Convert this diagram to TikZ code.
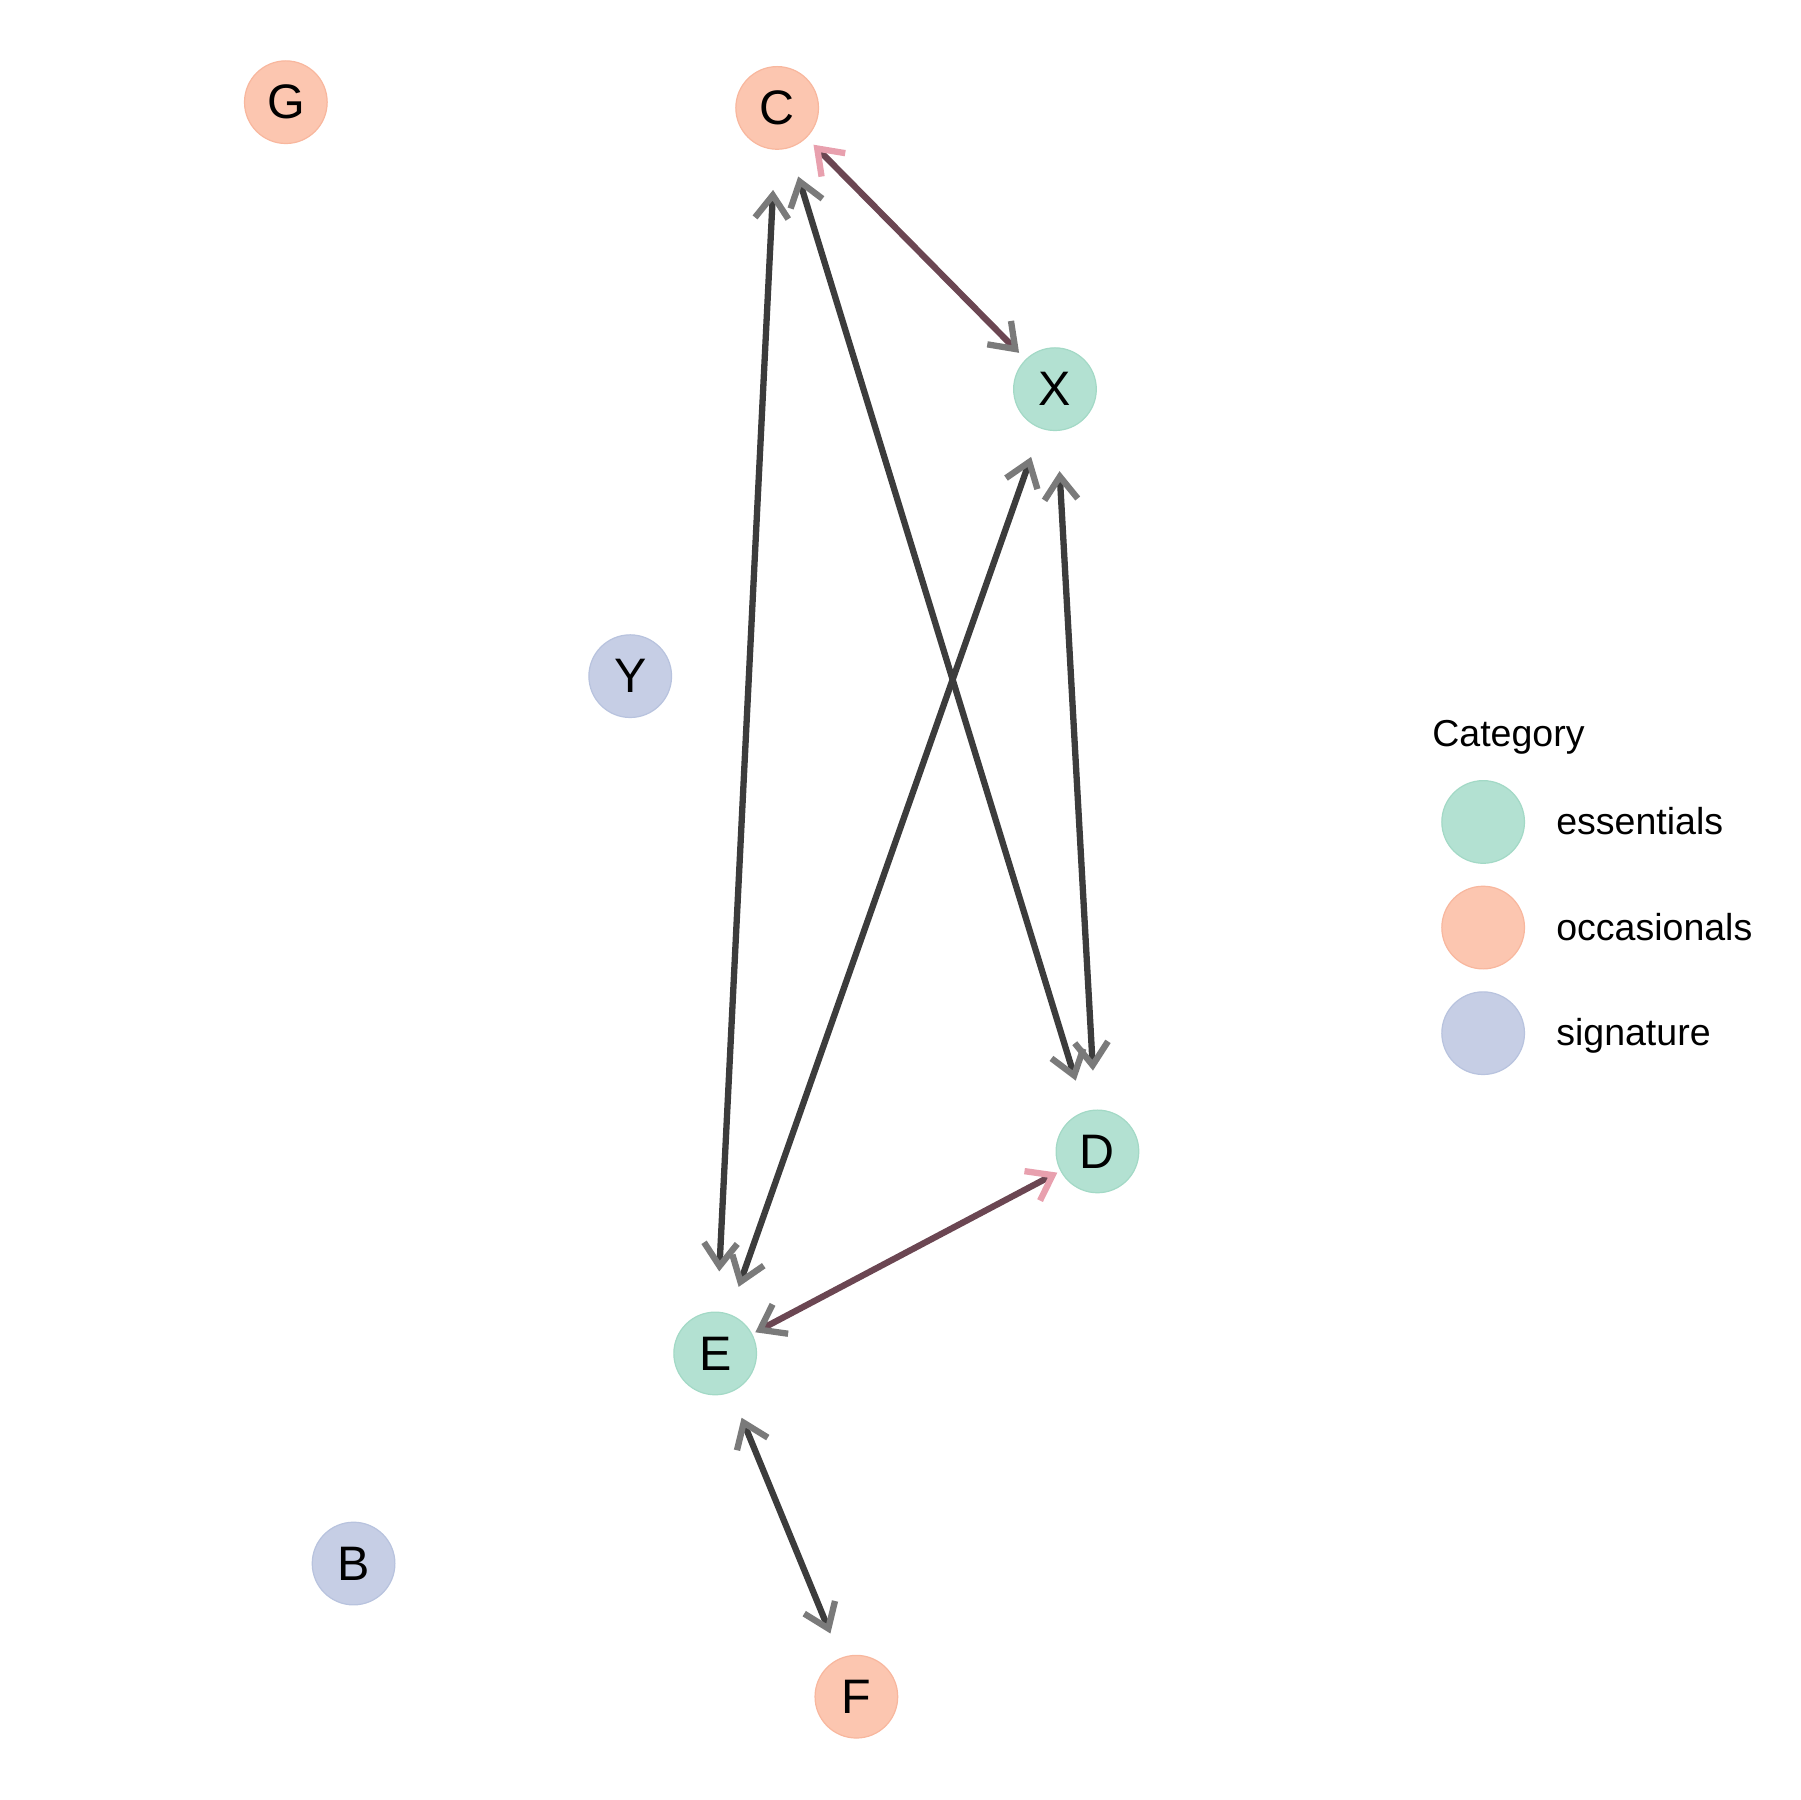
\documentclass[tikz,border=0pt]{standalone}
\usepackage{fontspec}
\setmainfont{Liberation Sans}
\usetikzlibrary{arrows.meta}
\definecolor{essfill}{HTML}{B3E1D2}
\definecolor{essline}{HTML}{A3D9C6}
\definecolor{occfill}{HTML}{FCC6B0}
\definecolor{occline}{HTML}{F8B79E}
\definecolor{sigfill}{HTML}{C6CEE5}
\definecolor{sigline}{HTML}{B8C3DE}
\definecolor{linkgray}{HTML}{3C3C3C}
\definecolor{linkmaroon}{HTML}{6B4652}
\definecolor{headgray}{HTML}{7A7A7A}
\definecolor{headpink}{HTML}{E8A0AE}
\tikzset{
  gtip/.tip={Straight Barb[length=2mm, width=2.9mm, line width=0.55mm, color=headgray]},
  ptip/.tip={Straight Barb[length=2mm, width=2.9mm, line width=0.55mm, color=headpink]}
}
\begin{document}
\begin{tikzpicture}[x=0.1mm, y=-0.1mm,
  cat/.style={circle, minimum size=7.2mm, inner sep=0pt, line width=0.3pt, font=\fontsize{12}{14}\selectfont},
  ess/.style={cat, fill=essfill, draw=essline},
  occ/.style={cat, fill=occfill, draw=occline},
  sig/.style={cat, fill=sigfill, draw=sigline},
  link/.style={line width=0.55mm, draw=linkgray, gtip-gtip},
  mlink/.style={line width=0.55mm, draw=linkmaroon},
  key/.style={font=\fontsize{9.3}{11}\selectfont, inner sep=0pt}]
\useasboundingbox (0,0) rectangle (1568,1568);
% Nodes
\node[occ] (G) at (249,89) {G};
\node[occ] (C) at (677,94) {C};
\node[ess] (X) at (919,339) {X};
\node[sig] (Y) at (549,589) {Y};
\node[ess] (D) at (956,1003) {D};
\node[ess] (E) at (623,1179) {E};
\node[sig] (B) at (308,1362) {B};
\node[occ] (F) at (746,1478) {F};

% Links
\draw[link, shorten <=3.5mm, shorten >=3.5mm] (C) -- (E);
\draw[link, shorten <=2.6mm, shorten >=2.8mm] (C) -- (D);
\draw[link, shorten <=2.6mm, shorten >=2.5mm] (X) -- (E);
\draw[link, shorten <=3.5mm, shorten >=3.4mm] (X) -- (D);
\draw[link, shorten <=2.4mm, shorten >=2.3mm] (E) -- (F);
\draw[mlink, ptip-gtip, shorten <=0.85mm, shorten >=0.8mm] (C) -- (X);
\draw[mlink, gtip-ptip, shorten <=0.3mm, shorten >=0.3mm] (E) -- (D);

% Legend
\node[key, anchor=base west] (title) at (1247,650) {Category};
\node[ess] (kess) at (1292,716) {};
\node[occ] (kocc) at (1292,808) {};
\node[sig] (ksig) at (1292,900) {};
\node[key, anchor=base west] (less) at (1355,727) {essentials};
\node[key, anchor=base west] (locc) at (1355,819) {occasionals};
\node[key, anchor=base west] (lsig) at (1355,911) {signature};
\end{tikzpicture}
\end{document}
